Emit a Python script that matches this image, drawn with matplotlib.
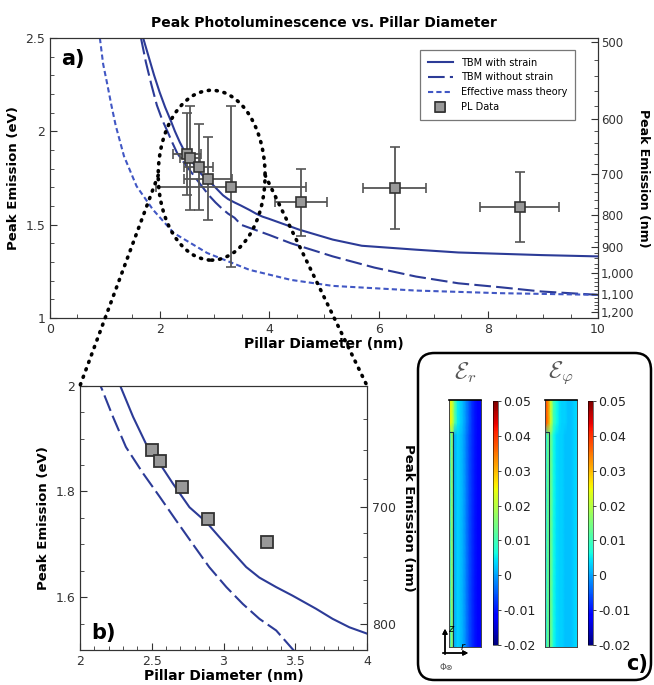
import numpy as np
import matplotlib.pyplot as plt
from matplotlib.patches import Ellipse, ConnectionPatch, FancyBboxPatch
from matplotlib.ticker import MultipleLocator, FixedLocator

strain_x = [1.70, 1.80, 1.90, 2.00, 2.10, 2.20, 2.28, 2.37, 2.46, 2.555, 2.647, 2.763, 2.88,
            2.97, 3.065, 3.158, 3.25, 3.367, 3.48, 3.645, 3.76, 3.877, 3.99, 4.55, 5.16,
            5.69, 6.68, 7.45, 8.21, 8.97, 10.0]
strain_y = [2.50, 2.40, 2.30, 2.21, 2.13, 2.06, 2.00, 1.941, 1.89, 1.853, 1.815, 1.77, 1.742,
            1.714, 1.685, 1.657, 1.637, 1.619, 1.603, 1.578, 1.559, 1.543, 1.532, 1.473, 1.42,
            1.387, 1.366, 1.351, 1.344, 1.337, 1.33]

nostrain_x = [1.66, 1.75, 1.85, 1.95, 2.05, 2.155, 2.23, 2.32, 2.44, 2.555, 2.67, 2.787, 2.90,
              3.02, 3.135, 3.25, 3.367, 3.49, 4.0, 4.4, 5.16, 5.92, 6.68, 7.45, 8.21, 8.97, 10.0]
nostrain_y = [2.50, 2.37, 2.25, 2.14, 2.06, 1.992, 1.941, 1.884, 1.834, 1.79, 1.745, 1.70, 1.657,
              1.619, 1.587, 1.559, 1.537, 1.499, 1.445, 1.40, 1.33, 1.27, 1.222, 1.186, 1.165,
              1.142, 1.124]

emt_x = [0.91, 0.97, 1.04, 1.12, 1.20, 1.35, 1.58, 1.88, 2.26, 2.87, 3.64, 4.4, 5.16, 6.68, 8.21, 10.0]
emt_y = [2.50, 2.36, 2.26, 2.14, 2.03, 1.867, 1.706, 1.58, 1.455, 1.348, 1.258, 1.204, 1.172,
         1.147, 1.133, 1.124]

# ---- PL data ----
pl_x = [2.50, 2.56, 2.71, 2.89, 3.30, 4.58, 6.29, 8.57]
pl_y = [1.878, 1.858, 1.808, 1.747, 1.704, 1.62, 1.695, 1.594]
pl_xerr = [0.25, 0.18, 0.26, 0.44, 1.37, 0.48, 0.57, 0.72]
pl_yerr = [0.22, 0.28, 0.23, 0.22, 0.43, 0.18, 0.22, 0.186]

nm_major_a = [500, 600, 700, 800, 900, 1000, 1100, 1200]
nm_labels_a = ['500', '600', '700', '800', '900', '1,000', '1,100', '1,200']
nm_major_b = [700, 800]

# ---- strain maps (columns across r, left to right) ----
eps_r_top = [0.026, 0.023, 0.012, 0.005, 0.003, 0.001, -0.002, -0.005, -0.008, -0.010, -0.011, -0.011]
eps_r_body = [0.003, 0.018, 0.001, 0.003, 0.002, 0.0, -0.003, -0.006, -0.008, -0.010, -0.011, -0.011]
eps_phi_top = [0.040, 0.034, 0.022, 0.010, 0.006, 0.004, 0.003, 0.003, 0.002, 0.002, 0.003, 0.004]
eps_phi_body = [0.003, 0.013, 0.014, 0.006, 0.004, 0.003, 0.003, 0.002, 0.002, 0.002, 0.003, 0.004]
cb_ticks = [0.05, 0.04, 0.03, 0.02, 0.01, 0, -0.01, -0.02]
cb_labels = ['0.05', '0.04', '0.03', '0.02', '0.01', '0', '-0.01', '-0.02']

blue = '#2c3b97'
blue2 = '#4157c4'
W, H = 654, 685

fig = plt.figure(figsize=(6.54, 6.85), dpi=100)


def box(l, r, t, b):
    return [l / W, 1 - b / H, (r - l) / W, (b - t) / H]


def style(ax):
    ax.tick_params(direction='in', which='both', top=False, labelsize=9, colors='#333333')
    ax.tick_params(which='major', length=5)
    ax.tick_params(which='minor', length=3)
    for s in ax.spines.values():
        s.set_color('#333333')


def to_ev(nm):
    return 1240.0 / np.asarray(nm, dtype=float)


# ================= panel a =================
ax = fig.add_axes(box(50, 598, 38, 318))
ax.plot(strain_x, strain_y, color=blue, lw=1.5, label='TBM with strain')
ax.plot(nostrain_x, nostrain_y, color=blue, lw=1.5, ls=(0, (8, 2.5)), label='TBM without strain')
ax.plot(emt_x, emt_y, color=blue2, lw=1.5, ls=(0, (2.5, 1.5)), label='Effective mass theory')
ax.errorbar(pl_x, pl_y, xerr=pl_xerr, yerr=pl_yerr, fmt='s', ms=7, mfc='#999999', mec='#333333',
            mew=1.2, ecolor='#555555', elinewidth=1.3, capsize=3.5, capthick=1.2, label='PL Data')
ax.set_xlim(0, 10)
ax.set_ylim(1, 2.5)
ax.set_xticks([0, 2, 4, 6, 8, 10])
ax.set_yticks([1, 1.5, 2, 2.5])
ax.set_yticklabels(['1', '1.5', '2', '2.5'])
ax.xaxis.set_minor_locator(MultipleLocator(0.5))
ax.yaxis.set_minor_locator(MultipleLocator(0.1))
style(ax)
ax.set_xlabel('Pillar Diameter (nm)', fontsize=10, fontweight='bold', labelpad=1)
ax.set_ylabel('Peak Emission (eV)', fontsize=9.5, fontweight='bold')
ax.set_title('Peak Photoluminescence vs. Pillar Diameter', fontsize=10, fontweight='bold', pad=8)
ax.text(0.02, 0.96, 'a)', transform=ax.transAxes, fontsize=15, fontweight='bold', va='top')
leg = ax.legend(loc='upper right', bbox_to_anchor=(0.967, 0.975), fontsize=7, frameon=True,
                fancybox=False, edgecolor='#555555', handlelength=2.6, borderpad=0.8, labelspacing=0.5)
leg.get_frame().set_linewidth(0.9)

axr = ax.twinx()
axr.set_ylim(1, 2.5)
axr.set_yticks(to_ev(nm_major_a))
axr.set_yticklabels(nm_labels_a)
axr.yaxis.set_minor_locator(FixedLocator(to_ev(np.arange(520, 1200, 20))))
style(axr)
axr.tick_params(labelsize=8.5, pad=2)
axr.set_ylabel('Peak Emission (nm)', fontsize=9, fontweight='bold', rotation=270, labelpad=11)

# zoom ellipse
ell_c = (2.95, 1.765)
ell_w, ell_h = 1.95, 0.91
dots = dict(color='black', lw=2.6, ls=(0, (0.3, 1.9)), capstyle='round')
ax.add_patch(Ellipse(ell_c, ell_w, ell_h, fill=False, zorder=6, **dots))

# ================= panel b =================
bx = fig.add_axes(box(80, 367, 385.7, 650))
bx.plot(strain_x, strain_y, color=blue, lw=1.5)
bx.plot(nostrain_x, nostrain_y, color=blue, lw=1.5, ls=(0, (8, 2.5)))
bx.plot(pl_x, pl_y, 's', ms=8, mfc='#999999', mec='#333333', mew=1.3)
bx.set_xlim(2, 4)
bx.set_ylim(1.5, 2.0)
bx.set_xticks([2, 2.5, 3, 3.5, 4])
bx.set_xticklabels(['2', '2.5', '3', '3.5', '4'])
bx.set_yticks([1.6, 1.8, 2.0])
bx.set_yticklabels(['1.6', '1.8', '2'])
bx.xaxis.set_minor_locator(MultipleLocator(0.1))
bx.yaxis.set_minor_locator(MultipleLocator(0.05))
style(bx)
bx.set_xlabel('Pillar Diameter (nm)', fontsize=10, fontweight='bold', labelpad=1)
bx.set_ylabel('Peak Emission (eV)', fontsize=9.5, fontweight='bold')
bx.text(0.04, 0.04, 'b)', transform=bx.transAxes, fontsize=15, fontweight='bold')

bxr = bx.twinx()
bxr.set_ylim(1.5, 2.0)
bxr.set_yticks(to_ev(nm_major_b))
bxr.set_yticklabels([str(v) for v in nm_major_b])
bxr.yaxis.set_minor_locator(FixedLocator(to_ev(np.arange(620, 820, 20))))
style(bxr)
bxr.set_ylabel('Peak Emission (nm)', fontsize=9.5, fontweight='bold', rotation=270, labelpad=14)

for ex, cx in [(ell_c[0] - ell_w / 2, 2.0), (ell_c[0] + ell_w / 2, 4.0)]:
    con = ConnectionPatch(xyA=(ex, ell_c[1]), coordsA=ax.transData,
                          xyB=(cx, 2.0), coordsB=bx.transData, zorder=6, **dots)
    fig.add_artist(con)

# ================= panel c =================
fig.add_artist(FancyBboxPatch((418 / W, 1 - 680 / H), 233 / W, 327 / H,
                              boxstyle='round,pad=0,rounding_size=0.025',
                              transform=fig.transFigure, fill=False, ec='black', lw=1.8))

maps = [(eps_r_top, eps_r_body, 449, 493, r'$\mathcal{E}_r$'),
        (eps_phi_top, eps_phi_body, 545, 588, r'$\mathcal{E}_\varphi$')]
for top, body, mx, cbx, lab in maps:
    m = fig.add_axes(box(mx, mx + 32, 400, 647))
    field = np.array([top] * 3 + [body] * 19, dtype=float)
    rr = np.linspace(0, 1, field.shape[1])
    zz = np.linspace(1, 0, field.shape[0])
    pc = m.pcolormesh(rr, zz, field, cmap='jet', vmin=-0.02, vmax=0.05, shading='gouraud')
    m.plot([0.02, 0.135, 0.135], [0.872, 0.872, 0.0], color='#16324a', lw=0.8)
    m.set_xlim(0, 1)
    m.set_ylim(0, 1)
    m.set_xticks([])
    m.set_yticks([])
    for s in m.spines.values():
        s.set_linewidth(0.7)
        s.set_color('#444444')
    m.spines['top'].set_linewidth(1.2)
    m.spines['top'].set_color('black')
    fig.text((mx + 16) / W, 1 - 373 / H, lab, fontsize=17, color='#555555', ha='center',
             va='center', math_fontfamily='cm')
    cax = fig.add_axes(box(cbx, cbx + 5, 401, 645))
    cb = fig.colorbar(pc, cax=cax, ticks=cb_ticks)
    cb.ax.set_yticklabels(cb_labels)
    cb.ax.tick_params(labelsize=9, length=2, width=0.6, pad=2, colors='#222222')
    cb.outline.set_linewidth(0.4)

# coordinate icon
arrow = dict(arrowstyle='-|>', color='black', lw=1.0, mutation_scale=7)
fig.add_artist(plt.annotate('', xy=(445 / W, 1 - 626 / H), xytext=(445 / W, 1 - 657 / H),
                            xycoords='figure fraction', arrowprops=arrow))
fig.add_artist(plt.annotate('', xy=(471 / W, 1 - 653 / H), xytext=(440 / W, 1 - 653 / H),
                            xycoords='figure fraction', arrowprops=arrow))
fig.text(448 / W, 1 - 629 / H, 'z', fontsize=7, style='italic', va='center')
fig.text(461 / W, 1 - 647 / H, 'r', fontsize=7, style='italic', va='center')
fig.text(439 / W, 1 - 667 / H, 'Φ⊗', fontsize=6, color='#555555', va='center')
fig.text(648 / W, 1 - 664 / H, 'c)', fontsize=15, fontweight='bold', ha='right', va='center')

fig.savefig('out.png', dpi=100)
